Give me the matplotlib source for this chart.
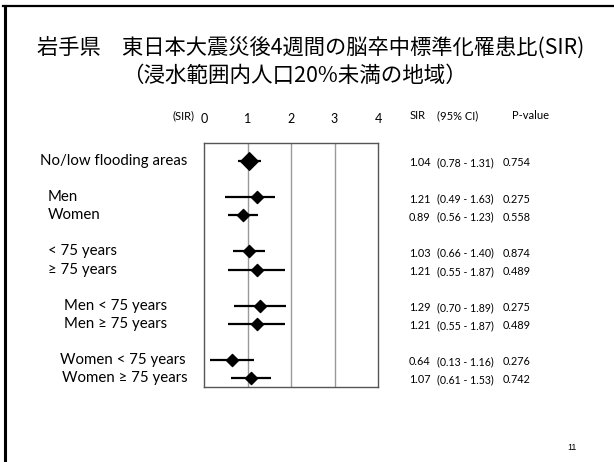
import matplotlib
matplotlib.use("Agg")
import matplotlib.pyplot as plt
from matplotlib.lines import Line2D

# Subgroups and their standardized incidence ratios
labels = ["No/low flooding areas", "Men", "Women", "< 75 years", "\u2265 75 years",
          "Men < 75 years", "Men \u2265 75 years", "Women < 75 years", "Women \u2265 75 years"]
groups = [0, 1, 1, 2, 2, 3, 3, 4, 4]
sir = [1.04, 1.21, 0.89, 1.03, 1.21, 1.29, 1.21, 0.64, 1.07]
ci_low = [0.78, 0.49, 0.56, 0.66, 0.55, 0.70, 0.55, 0.13, 0.61]
ci_high = [1.31, 1.63, 1.23, 1.40, 1.87, 1.89, 1.87, 1.16, 1.53]
p_values = ["0.754", "0.275", "0.558", "0.874", "0.489", "0.275", "0.489", "0.276", "0.742"]
x_ticks = [0, 1, 2, 3, 4]

title1 = "岩手県\u3000東日本大震災後4週間の脳卒中標準化罹患比(SIR)"
title2 = "（浸水範囲内人口20%未満の地域）"

W, H = 614, 462
fig = plt.figure(figsize=(W / 100, H / 100), dpi=100)
fig.patch.set_facecolor("white")

def fx(px):
    return px / W

def fy(py):
    return 1 - py / H

# Slide frame (top and left edges)
fig.add_artist(Line2D([fx(3), fx(614)], [fy(6), fy(6)], color="black", lw=1.6))
fig.add_artist(Line2D([fx(5), fx(5)], [fy(6), fy(462)], color="black", lw=2.2))

jp = ["Noto Sans CJK JP", "DejaVu Sans"]
fig.text(fx(311), fy(48), title1, fontsize=15.3, family=jp, ha="center", va="center")
fig.text(fx(294), fy(76), title2, fontsize=15.5, family=jp, ha="center", va="center")

# Forest plot panel
ax = fig.add_axes([fx(204), fy(387), fx(378) - fx(204), fy(143) - fy(387)])
ypos = [i + g for i, g in enumerate(groups)]
ax.set_xlim(0, 4)
ax.set_ylim(12.5, -1)
for v in [1, 2, 3]:
    ax.axvline(v, color="#9a9a9a", lw=1.0, zorder=1)
for s in ax.spines.values():
    s.set_color("#555555")
    s.set_linewidth(1.0)

ax.hlines(ypos, ci_low, ci_high, color="black", lw=1.6, zorder=3)
ax.scatter(sir[:1], ypos[:1], marker="D", s=80, color="black", zorder=4)
ax.scatter(sir[1:], ypos[1:], marker="D", s=38, color="black", zorder=4)

font = ["Lato", "DejaVu Sans"]
ax.xaxis.tick_top()
ax.set_xticks(x_ticks)
ax.set_xticklabels([str(t) for t in x_ticks], fontsize=9, family=font)
ax.tick_params(axis="x", length=0, pad=13)
ax.set_yticks([])

# Column headers
hdr_y = fy(116)
fig.text(fx(195), hdr_y, "(SIR)", fontsize=8, family=font, ha="right", va="center")
fig.text(fx(410), hdr_y, "SIR", fontsize=8, family=font, ha="left", va="center")
fig.text(fx(437), hdr_y, "(95% CI)", fontsize=8, family=font, ha="left", va="center")
fig.text(fx(512), hdr_y, "P-value", fontsize=8, family=font, ha="left", va="center")

# Row labels and value columns
label_x = [40, 48, 48, 48, 48, 64, 64, 60, 62]
for lab, lx, yv, s, lo, hi, p in zip(labels, label_x, ypos, sir, ci_low, ci_high, p_values):
    ydisp = ax.transData.transform((0, yv))[1] / H
    fig.text(fx(lx), ydisp, lab, fontsize=10.8, family=font, ha="left", va="center")
    fig.text(fx(409), ydisp - 0.004, f"{s:.2f}", fontsize=7.8, family=font, ha="left", va="center")
    fig.text(fx(437), ydisp - 0.004, f"({lo:.2f} - {hi:.2f})", fontsize=7.6, family=font,
             ha="left", va="center")
    fig.text(fx(503), ydisp - 0.004, p, fontsize=7.8, family=font, ha="left", va="center")

fig.text(fx(572), fy(448), "11", fontsize=6.5, family=["Liberation Sans"], ha="center",
         va="center")

fig.savefig("out.png", dpi=100, facecolor="white")
